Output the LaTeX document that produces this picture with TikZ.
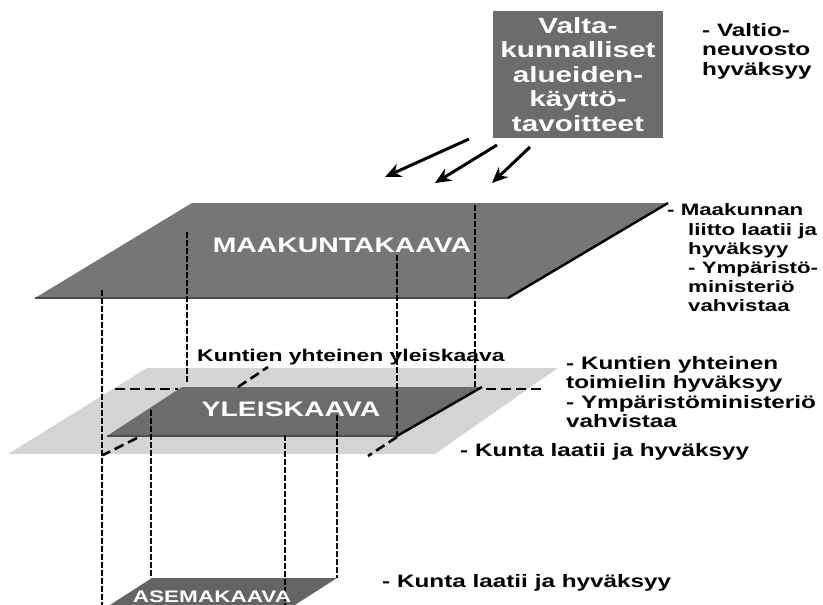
\documentclass[tikz,border=0pt]{standalone}
\usepackage{fontspec}
\newfontfamily\kaavafont{Liberation Sans}[UprightFont={* Bold}, FakeStretch=1.35]
\usepackage{tikz}
\usetikzlibrary{arrows.meta, positioning}

\definecolor{boxgray}{RGB}{108,108,108}
\definecolor{maagray}{RGB}{118,118,120}
\definecolor{yleilight}{RGB}{212,212,212}
\definecolor{yleidark}{RGB}{108,108,110}
\definecolor{asegray}{RGB}{100,100,100}

\begin{document}
\begin{tikzpicture}[
    x = 1pt,
    y = -1pt,
    > = {Stealth[length=16pt, width=14pt]},
    proj/.style = {line width=2pt, dash pattern=on 6pt off 2pt},
    hiddenedge/.style = {line width=2.6pt, dash pattern=on 10pt off 5pt},
    note/.style = {font=\kaavafont\fontsize{18}{19.5}\selectfont, align=left, anchor=west, inner sep=0pt},
    plantext/.style = {font=\kaavafont\fontsize{21}{24}\selectfont, text=white, inner sep=0pt}
]
\useasboundingbox (0,0) rectangle (823,605);

% 1. The three plan levels as parallelograms
\fill[maagray] (192,203) -- (668,203) -- (508,298) -- (35,298) -- cycle;
\draw[line width=2.4pt] (668,203) -- (508,298);
\draw[line width=1.6pt, black!70] (508,298) -- (35,298);

\fill[yleilight] (147,368) -- (558,368) -- (435,454) -- (8,454) -- cycle;
\fill[yleidark] (182,387) -- (482,387) -- (397,436) -- (107,436) -- cycle;
\draw[line width=2.4pt] (482,387) -- (397,436);
\draw[line width=1.6pt, black!70] (397,436) -- (107,436);

\fill[asegray] (152,578) -- (337,578) -- (287,610) -- (102,610) -- cycle;

% 2. Hidden edges of the joint plan
\draw[hiddenedge] (115,389) -- (178,389);
\draw[hiddenedge] (486,389) -- (543,389);
\draw[hiddenedge] (238,387) -- (268,367);
\draw[hiddenedge] (137,438) -- (103,455);
\draw[hiddenedge] (397,437) -- (368,456);

% 3. Projection lines between the levels
\foreach \x/\ya/\yb in {102/290/605, 187/232/383, 397/255/436, 475/205/388,
                        151/410/578, 285/435/605, 337/415/578} {
    \draw[proj] (\x,\ya) -- (\x,\yb);
}

% 4. Top box and its arrows
\node[fill=boxgray, minimum width=170pt, minimum height=127pt, inner sep=0pt,
      font=\kaavafont\fontsize{22}{24.5}\selectfont, text=white, align=center]
      (valta) at (578,74.5) {Valta-\\kunnalliset\\alueiden-\\käyttö-\\tavoitteet};

\coordinate (a1) at (469,139);
\coordinate (b1) at (385,177);
\coordinate (a2) at (497,145);
\coordinate (b2) at (435,183);
\coordinate (a3) at (530,147);
\coordinate (b3) at (492,183);
\draw[->, line width=3pt] (a1) -- (b1);
\draw[->, line width=3pt] (a2) -- (b2);
\draw[->, line width=3pt] (a3) -- (b3);

% 5. Level names
\node[plantext] (maa) at (342,245) {MAAKUNTAKAAVA};
\node[plantext] (ylei) at (291,409) {YLEISKAAVA};
\node[plantext, font=\kaavafont\fontsize{16.7}{18}\selectfont] (ase) at (212,597) {ASEMAKAAVA};
\node[note, font=\kaavafont\fontsize{17}{19}\selectfont] (yhteinen) at (197,357) {Kuntien yhteinen yleiskaava};

% 6. Who prepares and approves
\node[note] (valtionote) at (702,51) {- Valtio-\\neuvosto\\hyväksyy};
\node[note, font=\kaavafont\fontsize{16.5}{19.2}\selectfont] (maanote) at (688,258)
    {\hspace*{-21pt}- Maakunnan\\liitto laatii ja\\hyväksyy\\- Ympäristö-\\ministeriö\\vahvistaa};
\node[note] (kuntanote) at (566,392) {- Kuntien yhteinen\\toimielin hyväksyy\\- Ympäristöministeriö\\vahvistaa};
\node[note] (kuntaylei) at (460,452) {- Kunta laatii ja hyväksyy};
\node[note] (kuntaase) at (382,583) {- Kunta laatii ja hyväksyy};

\end{tikzpicture}
\end{document}
